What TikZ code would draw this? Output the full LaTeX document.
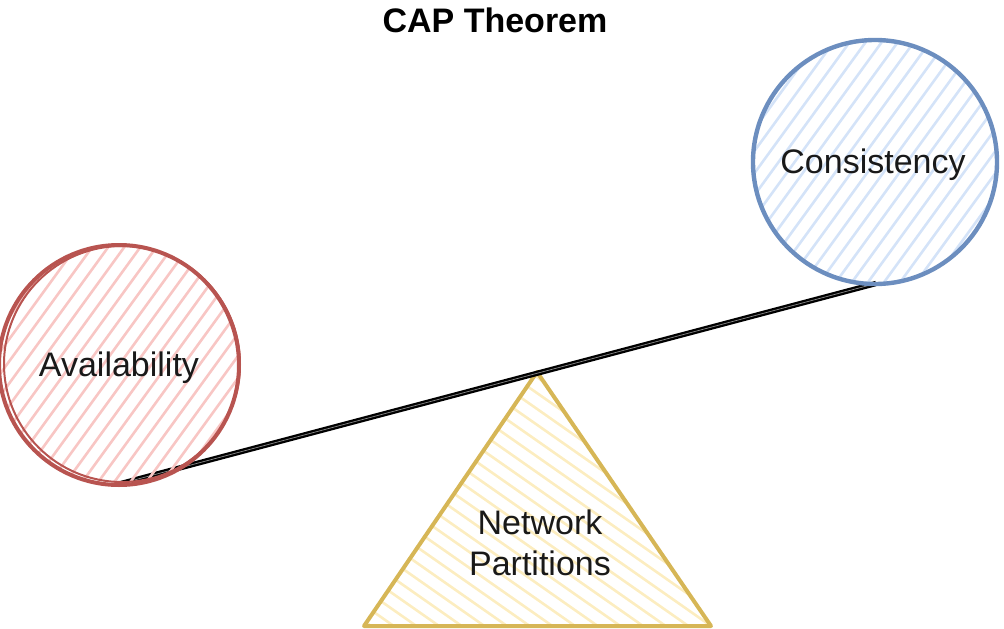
\documentclass[tikz,border=0pt]{standalone}
\usepackage{fontspec}
\setmainfont{Liberation Sans}
\usetikzlibrary{calc}
\definecolor{redS}{HTML}{B85450}
\definecolor{redF}{HTML}{F8C6C4}
\definecolor{blueS}{HTML}{6C8EBF}
\definecolor{blueF}{HTML}{D4E3F8}
\definecolor{yelS}{HTML}{D6B656}
\definecolor{yelF}{HTML}{FCEDC0}
\tikzset{
  bigtext/.style={font=\fontsize{34}{41}\selectfont, text=black!90, align=center},
  ball/.style={circle, minimum size=240pt, inner sep=0pt, line width=3pt},
  beam/.style={line width=2.3pt, double=black!45, double distance=0.7pt, draw=black},
  hatchline/.style={line width=2.6pt},
}
\begin{document}
\begin{tikzpicture}[x=1pt,y=-1pt]
\useasboundingbox (0,0) rectangle (1004,629);
% title
\node[font=\fontsize{34}{41}\selectfont\bfseries] (title) at (495,20) {CAP Theorem};
% triangle
\coordinate (apex) at (537,372);
\coordinate (bl) at (364,626);
\coordinate (br) at (711,626);
\begin{scope}
  \clip (apex) -- (bl) -- (br) -- cycle;
  \begin{scope}[shift={(537,520)}, rotate=-35]
    \foreach \k in {-260,-247,...,260}
      \draw[hatchline, yelF] (-300,\k) -- (300,\k);
  \end{scope}
\end{scope}
\draw[yelS, line width=4pt, line join=round] (apex) -- (bl) -- (br) -- cycle;
\node[bigtext] (net) at (540,543) {Network\\Partitions};
% circles (shape only, for names)
\node[ball] (avail) at (119,365) {};
\node[ball, minimum size=244pt] (cons) at (875,162) {};
% beam
\draw[beam] ($(avail.south)+(2,-3)$) -- ($(cons.south)+(1,-2)$);
% circle fills and outlines
\begin{scope}
  \clip (avail.center) circle (119pt);
  \begin{scope}[shift={(avail.center)}, rotate=54]
    \foreach \k in {-130,-117,...,130}
      \draw[hatchline, redF] (-130,\k) -- (130,\k);
  \end{scope}
\end{scope}
\draw[redS, line width=4pt] (avail.center) circle (120pt);
\draw[redS, line width=2pt] ($(avail.center)+(3,-1)$) circle (118pt);
\begin{scope}
  \clip (cons.center) circle (121pt);
  \begin{scope}[shift={(cons.center)}, rotate=54]
    \foreach \k in {-130,-117,...,130}
      \draw[hatchline, blueF] (-130,\k) -- (130,\k);
  \end{scope}
\end{scope}
\draw[blueS, line width=4.4pt] (cons.center) circle (122pt);
\node[bigtext] (availtext) at (119,368) {Availability};
\node[bigtext] (constext) at (873,165) {Consistency};
\end{tikzpicture}
\end{document}
